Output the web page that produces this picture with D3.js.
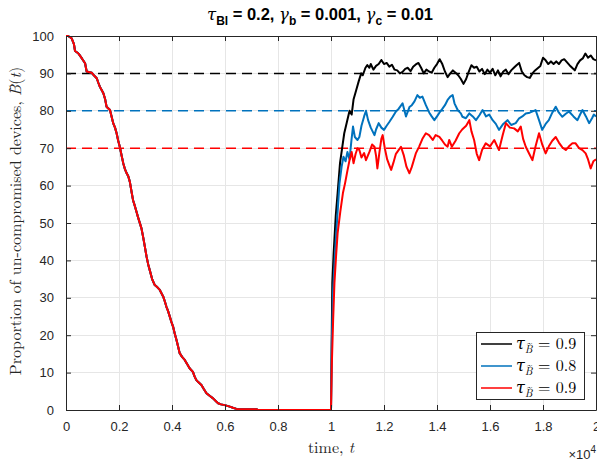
<!DOCTYPE html>
<html>
<head>
<meta charset="utf-8">
<script src="https://cdn.jsdelivr.net/npm/d3@7"></script>
<style>
html,body{margin:0;padding:0;background:#fff;}
svg{display:block;}
</style>
</head>
<body>
<svg id="chart" width="597" height="462"></svg>
<script>
// ---------------- DATA (time in units of 10^4) ----------------
const xTicks = [0,0.2,0.4,0.6,0.8,1,1.2,1.4,1.6,1.8,2];
const xTickLabels = ["0","0.2","0.4","0.6","0.8","1","1.2","1.4","1.6","1.8","2"];
const yTicks = [0,10,20,30,40,50,60,70,80,90,100];
const yTickLabels = ["0","10","20","30","40","50","60","70","80","90","100"];
const thresholds = [90,80,70];
const legendLabels = ["0.9","0.8","0.9"];

// common decline phase
const declineT = [0,0.008,0.021,0.030,0.034,0.046,0.050,0.060,0.072,0.078,0.097,0.105,0.116,0.122,0.128,0.135,0.141,0.148,0.153,0.166,0.172,0.178,0.185,0.191,0.197,0.203,0.210,0.216,0.222,0.229,0.235,0.241,0.247,0.253,0.260,0.266,0.272,0.279,0.285,0.291,0.298,0.304,0.310,0.316,0.325,0.335,0.345,0.354,0.367,0.373,0.379,0.385,0.392,0.398,0.404,0.410,0.417,0.423,0.429,0.438,0.448,0.457,0.467,0.479,0.485,0.492,0.500,0.511,0.520,0.530,0.542,0.555,0.565,0.574,0.585,0.599,0.618,0.630,0.643,0.720,0.725,1.000];
const declineV = [100,100,99.4,97.8,96,95.4,95,94,92.7,90.5,90.2,89.5,88.7,87.5,86.4,85.5,84.7,83,81.1,80.2,78.5,76.7,75.5,74,72,70.4,68,66,64.5,63.3,62.5,61,58.5,56.1,54.5,53,51.5,49.9,48.5,46.3,43.5,41,39,37.4,35,33.4,32.8,32.1,30.3,29,27.6,26.5,24.9,23.5,22.3,20.5,18.7,17,15.2,14.2,13.4,12.3,11.1,10.2,9,8,7.4,6.7,5.6,4.5,3.8,3.1,2.4,1.8,1.5,1.3,0.9,0.6,0.3,0.2,0,0];

// recovery phase, tau = 0.9 (black)
const blackT = [1.002,1.005,1.010,1.018,1.025,1.034,1.042,1.050,1.060,1.070,1.078,1.085,1.095,1.105,1.114,1.120,1.130,1.137,1.145,1.150,1.160,1.170,1.180,1.190,1.200,1.210,1.220,1.230,1.240,1.250,1.260,1.270,1.280,1.290,1.300,1.310,1.320,1.330,1.340,1.350,1.360,1.370,1.380,1.390,1.400,1.410,1.420,1.430,1.440,1.450,1.460,1.470,1.480,1.490,1.500,1.510,1.520,1.530,1.540,1.550,1.560,1.570,1.580,1.590,1.600,1.610,1.620,1.630,1.640,1.650,1.660,1.670,1.680,1.690,1.700,1.710,1.720,1.730,1.740,1.750,1.760,1.770,1.780,1.790,1.800,1.810,1.820,1.830,1.840,1.850,1.860,1.870,1.880,1.890,1.900,1.910,1.920,1.930,1.940,1.950,1.960,1.970,1.980,1.990,2.000];
const blackV = [15,34,42,52,58,66,70,74,77,80,79,83,85.5,88,90,89.5,91.5,92.2,91.5,92.5,91,92,92.5,93.6,92.5,92.8,91.8,92.3,91,90.8,90,90.4,91.2,91.5,90.6,91.8,92.4,92.8,91.5,90,91,90.5,90.2,91.5,92.5,93.8,92.5,90.5,89,90,90.8,90.2,89.5,88.5,87.2,88.5,90.5,92.2,91.5,91.8,90.5,91.2,89.8,91,90.2,91.2,89.5,90.8,89.2,90.5,91,89.8,90.8,91.5,92.2,92.8,90.5,89.5,89,88.8,90,90.8,91.4,92,94.2,93.5,92.5,93.2,92.5,93.2,92.5,93.5,93.8,93,92.2,91.5,90.8,92.5,93.5,94,95.3,94.2,94.8,93.8,93.5];

// recovery phase, tau = 0.8 (blue)
const blueT = [1.003,1.008,1.016,1.024,1.032,1.040,1.047,1.055,1.062,1.070,1.077,1.083,1.090,1.100,1.107,1.115,1.125,1.132,1.140,1.150,1.157,1.164,1.170,1.180,1.190,1.200,1.210,1.220,1.233,1.245,1.255,1.270,1.283,1.296,1.305,1.315,1.326,1.335,1.345,1.358,1.371,1.380,1.390,1.400,1.409,1.420,1.430,1.440,1.450,1.459,1.466,1.478,1.490,1.496,1.509,1.522,1.535,1.547,1.560,1.572,1.585,1.597,1.610,1.622,1.634,1.650,1.666,1.680,1.697,1.710,1.722,1.735,1.750,1.772,1.785,1.797,1.810,1.822,1.835,1.848,1.860,1.873,1.886,1.898,1.915,1.930,1.940,1.949,1.962,1.974,1.985,1.992,2.000];
const blueV = [18,32,43,52,60.6,65,67.7,66.5,69,67,72,75.8,73,72.2,73,76,78.5,80,77.5,75.5,74.5,73.5,75,76.7,75.5,74.9,76,77,78.4,79.8,80.5,82,78.5,81,81.5,82.5,84.2,83.5,83.8,81.5,79.5,78.5,77.5,78.5,79.5,80.5,81.5,82.9,83.8,84.2,82,80.2,79.3,78.4,78,79.3,78.5,77.5,78.8,80.2,78.5,79,77.5,76.5,74.9,76.5,77.5,76.2,76.7,78,78.5,79.3,79.5,80.2,77.5,74.9,76.5,77.5,79.5,81.1,79.5,78.4,79.2,79.8,78.5,77.5,79,80.2,78.5,76.7,78,79,78.5];

// recovery phase, tau = 0.9 (red)
const redT = [1.003,1.008,1.013,1.019,1.025,1.035,1.045,1.053,1.062,1.070,1.078,1.085,1.093,1.100,1.107,1.115,1.125,1.132,1.145,1.155,1.164,1.170,1.175,1.183,1.190,1.195,1.203,1.212,1.220,1.227,1.235,1.245,1.255,1.264,1.275,1.285,1.296,1.305,1.320,1.333,1.345,1.358,1.370,1.384,1.395,1.409,1.420,1.430,1.440,1.446,1.456,1.470,1.484,1.495,1.510,1.522,1.530,1.540,1.550,1.559,1.570,1.584,1.600,1.616,1.634,1.648,1.660,1.675,1.691,1.705,1.716,1.725,1.735,1.748,1.760,1.772,1.785,1.797,1.810,1.822,1.835,1.848,1.860,1.873,1.886,1.898,1.911,1.923,1.936,1.949,1.961,1.970,1.980,1.990,2.000];
const redV = [12,24,34,41,47.3,53,58,60.6,64,66.8,69,66,68.5,70,69.5,67.5,68.7,66.8,69,71,70.4,68,64.6,69,72.5,73.5,70,67,65.5,64.2,66,68.5,69.5,70.4,68,65,63.3,65,68.6,70.5,72.5,74,73.5,72.2,73.5,73,72,71,70.4,72.2,70.4,72,74,75,76,77.5,74.5,72.2,68.5,66.8,69.5,71.3,70.5,72.2,69.5,73.5,76.7,75.5,75.3,74.5,75.8,72.5,70.4,68.5,66.8,70.5,74,71,68.6,70.5,72,73,71.5,70.2,69.5,70.5,71.3,71.3,70,69.5,68.6,67,64.6,66.5,67];

const seriesColors = ["#000000","#0072BD","#FF0000"];
// ---------------------------------------------------------------

const svg = d3.select("#chart");
const L = 66, R = 596, T = 36, B = 410;
const x = d3.scaleLinear().domain([0,2]).range([L,R]);
const y = d3.scaleLinear().domain([0,100]).range([B,T]);
const axisColor = "#262626";
const sans = "'Liberation Sans', Arial, Helvetica, sans-serif";
const serif = "'Latin Modern Roman','CMU Serif','DejaVu Serif','Liberation Serif', serif";

// grid
const g = svg.append("g");
g.selectAll(".vg").data(xTicks).enter().append("line")
  .attr("x1",d=>x(d)).attr("x2",d=>x(d)).attr("y1",T).attr("y2",B)
  .attr("stroke","#e6e6e6").attr("stroke-width",1).attr("shape-rendering","crispEdges");
g.selectAll(".hg").data(yTicks).enter().append("line")
  .attr("x1",L).attr("x2",R).attr("y1",d=>y(d)).attr("y2",d=>y(d))
  .attr("stroke","#e6e6e6").attr("stroke-width",1).attr("shape-rendering","crispEdges");

// threshold dashed lines
svg.selectAll(".thr").data(thresholds).enter().append("line")
  .attr("x1",L).attr("x2",R).attr("y1",d=>y(d)).attr("y2",d=>y(d))
  .attr("stroke",(d,i)=>seriesColors[i]).attr("stroke-width",1.5)
  .attr("stroke-dasharray","10,6");

// series
const line = d3.line().x(d=>x(d[0])).y(d=>y(d[1]));
function build(tArr,vArr){
  const pts = declineT.map((t,i)=>[t,declineV[i]]);
  return pts.concat(tArr.map((t,i)=>[t,vArr[i]]));
}
const series = [build(blackT,blackV), build(blueT,blueV), build(redT,redV)];
svg.selectAll(".ser").data(series).enter().append("path")
  .attr("d",line).attr("fill","none")
  .attr("stroke",(d,i)=>seriesColors[i]).attr("stroke-width",2)
  .attr("stroke-linejoin","round");

// axes box with inward ticks
const xAxB = d3.axisBottom(x).tickValues(xTicks).tickFormat((d,i)=>xTickLabels[i]).tickSizeInner(-5).tickSizeOuter(0).tickPadding(12);
const xAxT = d3.axisTop(x).tickValues(xTicks).tickFormat("").tickSizeInner(-5).tickSizeOuter(0);
const yAxL = d3.axisLeft(y).tickValues(yTicks).tickFormat((d,i)=>yTickLabels[i]).tickSizeInner(-5).tickSizeOuter(0).tickPadding(12);
const yAxR = d3.axisRight(y).tickValues(yTicks).tickFormat("").tickSizeInner(-5).tickSizeOuter(0);
function styleAxis(sel){
  sel.select(".domain").attr("stroke",axisColor).attr("stroke-width",1);
  sel.selectAll(".tick line").attr("stroke",axisColor).attr("stroke-width",1);
  sel.selectAll(".tick text").attr("fill",axisColor).style("font-family",sans).style("font-size","13px");
}
svg.append("g").attr("transform",`translate(0,${B})`).call(xAxB).call(styleAxis);
svg.append("g").attr("transform",`translate(0,${T})`).call(xAxT).call(styleAxis);
svg.append("g").attr("transform",`translate(${L},0)`).call(yAxL).call(styleAxis);
svg.append("g").attr("transform",`translate(${R},0)`).call(yAxR).call(styleAxis);

// x10^4 multiplier
const mult = svg.append("text").attr("x",596).attr("y",459).attr("text-anchor","end")
  .attr("fill",axisColor).style("font-family",sans).style("font-size","13px");
mult.append("tspan").text("\u00d710");
mult.append("tspan").attr("dy",-6).style("font-size","10px").text("4");

// title
const title = svg.append("text").attr("x",320).attr("y",20).attr("text-anchor","middle")
  .attr("fill","#000").style("font-family",sans).style("font-size","16.5px").style("font-weight","bold");
title.append("tspan").style("font-weight","normal").style("font-style","italic").style("font-family",serif).text("\u03c4");
title.append("tspan").attr("dy",5).style("font-size","12px").text("Bl");
title.append("tspan").attr("dy",-5).text(" = 0.2, ");
title.append("tspan").style("font-weight","normal").style("font-style","italic").style("font-family",serif).text("\u03b3");
title.append("tspan").attr("dy",5).style("font-size","12px").text("b");
title.append("tspan").attr("dy",-5).text(" = 0.001, ");
title.append("tspan").style("font-weight","normal").style("font-style","italic").style("font-family",serif).text("\u03b3");
title.append("tspan").attr("dy",5).style("font-size","12px").text("c");
title.append("tspan").attr("dy",-5).text(" = 0.01");

// helper: append an italic B with a tilde accent inside the same text element.
function appendBTilde(textSel, bSize, tildeSize, lift, bDy){
  const bt = textSel.append("tspan").attr("dy",bDy).style("font-style","italic").style("font-size",bSize+"px").text("B");
  const wB = bt.node().getComputedTextLength();
  const tt = textSel.append("tspan").style("font-size",tildeSize+"px").text("~");
  const wT = tt.node().getComputedTextLength();
  tt.attr("dx", -(wB + wT)/2 + bSize*0.08).attr("dy", -lift);
  return {dx: (wB - wT)/2 - bSize*0.08, dy: lift};
}

// y label
const yl = svg.append("text").attr("transform",`translate(21,${(T+B)/2 - 2}) rotate(-90)`)
  .attr("text-anchor","middle").attr("fill","#262626")
  .style("font-family",serif).style("font-size","16px");
yl.append("tspan").text("Proportion of un-compromised devices, ");
const back1 = appendBTilde(yl, 16, 12, 8, 0);
yl.append("tspan").attr("dx",back1.dx).attr("dy",back1.dy).text("(");
yl.append("tspan").style("font-style","italic").text("t");
yl.append("tspan").text(")");

// x label
const xl = svg.append("text").attr("x",(L+R)/2).attr("y",453).attr("text-anchor","middle")
  .attr("fill","#262626").style("font-family",serif).style("font-size","16px");
xl.append("tspan").text("time, ");
xl.append("tspan").style("font-style","italic").text("t");

// legend
const lg = svg.append("g");
lg.append("rect").attr("x",476.5).attr("y",332.5).attr("width",108).attr("height",67)
  .attr("fill","#fff").attr("stroke",axisColor).attr("stroke-width",1);
const rowsY = [344,366,388];
legendLabels.forEach((lab,i)=>{
  lg.append("line").attr("x1",481).attr("x2",512).attr("y1",rowsY[i]).attr("y2",rowsY[i])
    .attr("stroke",seriesColors[i]).attr("stroke-width",1.5);
  const t = lg.append("text").attr("x",516).attr("y",rowsY[i]+5)
    .attr("fill","#000").style("font-family",serif).style("font-size","16px");
  t.append("tspan").style("font-style","italic").text("\u03c4");
  const back = appendBTilde(t, 11, 9, 7, 4);
  t.append("tspan").attr("dx",back.dx).attr("dy",back.dy - 4).text(" = " + lab);
});
</script>
</body>
</html>
